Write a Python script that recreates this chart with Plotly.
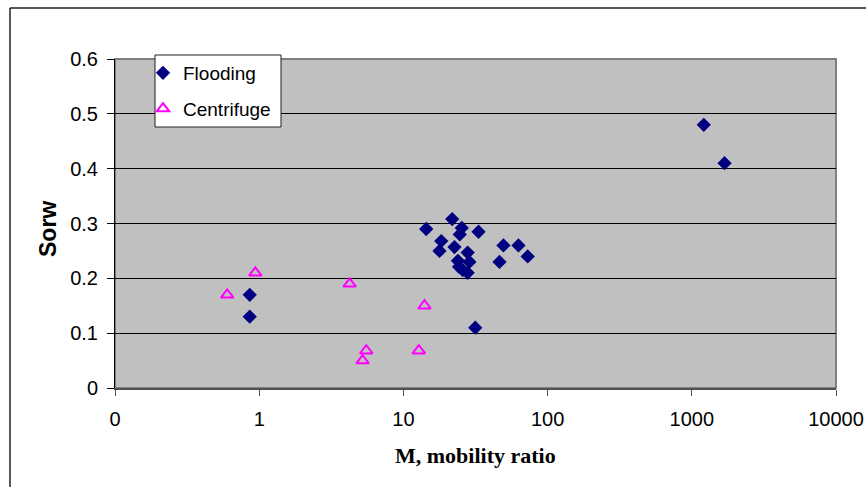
import plotly.graph_objects as go

# Data
flood_m = [0.86, 0.86, 14.4, 21.8, 25.4, 24.6, 33.2, 18.3, 17.8, 22.6, 27.9,
           23.9, 28.7, 24.3, 25.8, 27.9, 49.4, 62.8, 72.8, 46.4, 31.5, 1211, 1687]
flood_sorw = [0.17, 0.13, 0.29, 0.308, 0.292, 0.28, 0.285, 0.268, 0.25, 0.257, 0.247,
              0.232, 0.23, 0.221, 0.215, 0.21, 0.26, 0.26, 0.24, 0.23, 0.11, 0.48, 0.41]
cent_m = [0.60, 0.94, 4.24, 14.0, 5.53, 5.21, 12.8]
cent_sorw = [0.17, 0.21, 0.19, 0.15, 0.068, 0.05, 0.068]

x_tickvals = [0.1, 1, 10, 100, 1000, 10000]
x_ticktext = ["0", "1", "10", "100", "1000", "10000"]
y_tickvals = [0, 0.1, 0.2, 0.3, 0.4, 0.5, 0.6]
y_ticktext = ["0", "0.1", "0.2", "0.3", "0.4", "0.5", "0.6"]

W, H = 866, 487
L, R, T, B = 115, 30, 59, 99
pw, ph = W - L - R, H - T - B

def px(x):
    return (x - L) / pw

def py(y):
    return (H - B - y) / ph

fig = go.Figure()
fig.add_trace(go.Scatter(
    x=flood_m, y=flood_sorw, mode="markers", name="Flooding", legendgroup="a",
    marker=dict(symbol="diamond", size=11, color="#000080",
                line=dict(width=0))))
fig.add_trace(go.Scatter(
    x=cent_m, y=cent_sorw, mode="markers", name="Centrifuge", legendgroup="b",
    marker=dict(symbol="triangle-up-open", size=11, color="#FF00FF",
                line=dict(width=2, color="#FF00FF"))))

shapes = [
    # plot border (gray top/right)
    dict(type="rect", xref="paper", yref="paper", x0=0, x1=1, y0=0, y1=1,
         line=dict(color="#808080", width=2), layer="below"),
    # outer chart frame
    dict(type="line", xref="paper", yref="paper", x0=px(10), x1=px(10),
         y0=py(8), y1=py(H + 5), line=dict(color="#202020", width=1.5)),
    dict(type="line", xref="paper", yref="paper", x0=px(10), x1=px(W + 5),
         y0=py(8), y1=py(8), line=dict(color="#202020", width=1.5)),
    # legend box
    dict(type="rect", xref="paper", yref="paper", x0=px(155), x1=px(281),
         y0=py(127), y1=py(55), fillcolor="white",
         line=dict(color="#202020", width=1), layer="above"),
]

annotations = [
    dict(text="<b>M, mobility ratio</b>", xref="paper", yref="paper",
         x=px(475), y=py(455), xanchor="center", yanchor="middle", showarrow=False,
         font=dict(family="Liberation Serif, Times New Roman", size=22, color="black")),
    dict(text="<b>Sorw</b>", xref="paper", yref="paper", textangle=-90,
         x=px(48), y=py(229), xanchor="center", yanchor="middle", showarrow=False,
         font=dict(family="Liberation Sans, Arial", size=23, color="black")),
]

fig.update_layout(
    width=W, height=H,
    margin=dict(l=L, r=R, t=T, b=B, autoexpand=False),
    paper_bgcolor="white", plot_bgcolor="#C0C0C0",
    font=dict(family="Liberation Sans, Arial", color="black", size=19),
    showlegend=True,
    legend=dict(x=px(143), y=py(54), xanchor="left", yanchor="top",
                bgcolor="rgba(0,0,0,0)", borderwidth=0,
                font=dict(size=19, family="Liberation Sans, Arial"),
                traceorder="grouped", tracegroupgap=8),
    shapes=shapes,
    annotations=annotations,
    xaxis=dict(type="log", range=[-1, 4], tickvals=x_tickvals, ticktext=x_ticktext,
               showgrid=False, zeroline=False, automargin=False,
               showline=True, linecolor="#505050", linewidth=2,
               ticks="outside", ticklen=6, tickcolor="#505050", tickwidth=1,
               ticklabelstandoff=6,
               tickfont=dict(size=20)),
    yaxis=dict(range=[0, 0.6], tickvals=y_tickvals, ticktext=y_ticktext,
               showgrid=True, gridcolor="black", gridwidth=1, zeroline=False,
               automargin=False,
               showline=True, linecolor="black", linewidth=1,
               ticks="outside", ticklen=7, tickcolor="black",
               ticklabelstandoff=5,
               tickfont=dict(size=20)),
)

fig.write_html("out.html")
